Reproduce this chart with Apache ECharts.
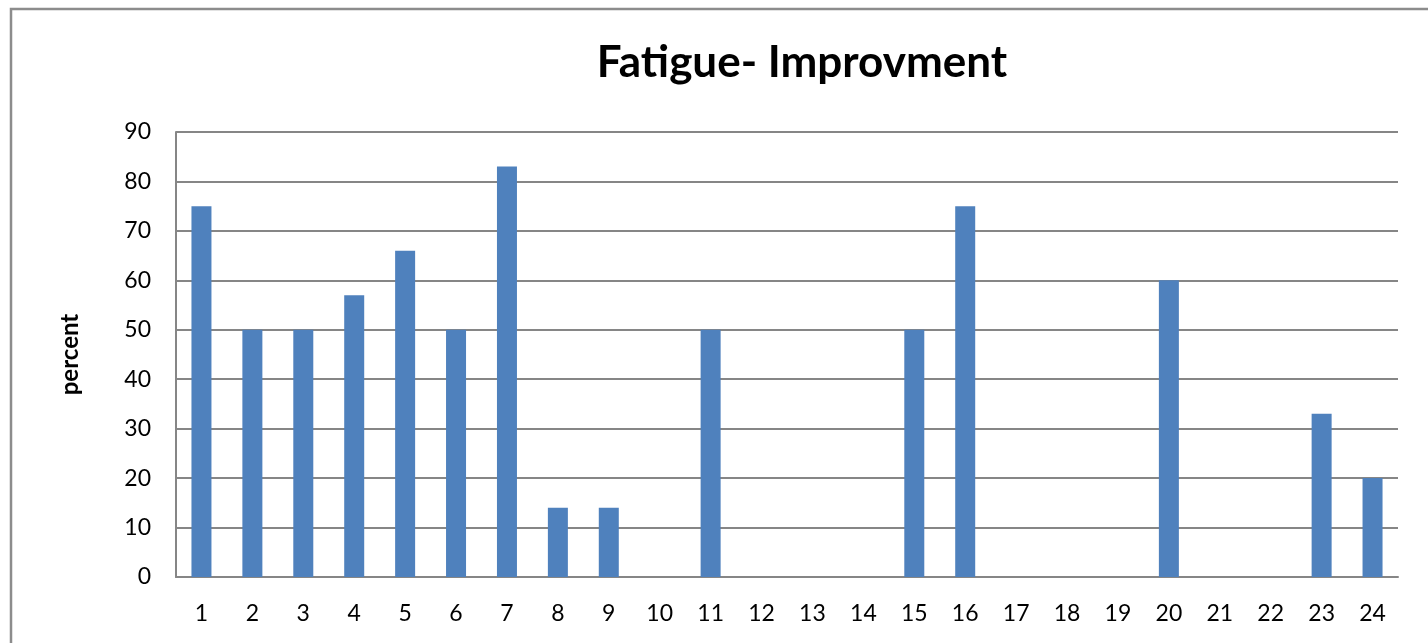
<!DOCTYPE html>
<html>
<head>
<meta charset="utf-8">
<script src="https://cdn.jsdelivr.net/npm/echarts@6/dist/echarts.min.js"></script>
<style>html,body{margin:0;padding:0;background:#fff}#c{width:1428px;height:643px}</style>
</head>
<body>
<div id="c"></div>
<script>
const categories = ['1','2','3','4','5','6','7','8','9','10','11','12','13','14','15','16','17','18','19','20','21','22','23','24'];
const values = [75,50,50,57,66,50,83,14,14,0,50,0,0,0,50,75,0,0,0,60,0,0,33,20];
const yTicks = {min:0, max:90, interval:10};
const titleText = 'Fatigue- Improvment';
const yName = 'percent';

const chart = echarts.init(document.getElementById('c'), null, {renderer:'canvas'});
chart.setOption({
  animation:false,
  backgroundColor:'#ffffff',
  graphic:[{type:'rect', shape:{x:11,y:9,width:1440,height:700}, style:{fill:'none', stroke:'#8c8c8c', lineWidth:2.5}, silent:true}],
  title:{text:titleText, left:797, top:36, textAlign:'center',
    textStyle:{fontFamily:'Lato', fontWeight:'bold', fontSize:44, color:'#000'}},
  grid:{left:176, right:30, top:132, bottom:66},
  xAxis:{type:'category', data:categories,
    axisLine:{show:true, lineStyle:{color:'#868686', width:2}},
    axisTick:{show:false},
    axisLabel:{color:'#000', fontFamily:'Lato', fontSize:23, margin:25}},
  yAxis:{type:'value', min:yTicks.min, max:yTicks.max, interval:yTicks.interval,
    name:yName, nameLocation:'middle', nameGap:94, nameRotate:90,
    nameTextStyle:{color:'#000', fontFamily:'Lato', fontWeight:'bold', fontSize:24},
    axisLine:{show:true, lineStyle:{color:'#868686', width:2}},
    axisTick:{show:false},
    splitLine:{lineStyle:{color:'#868686', width:2}},
    axisLabel:{color:'#000', fontFamily:'Lato', fontSize:23, margin:25}},
  series:[{type:'bar', data:values, barWidth:20,
    itemStyle:{color:'#4F81BD'}}]
});
</script>
</body>
</html>
